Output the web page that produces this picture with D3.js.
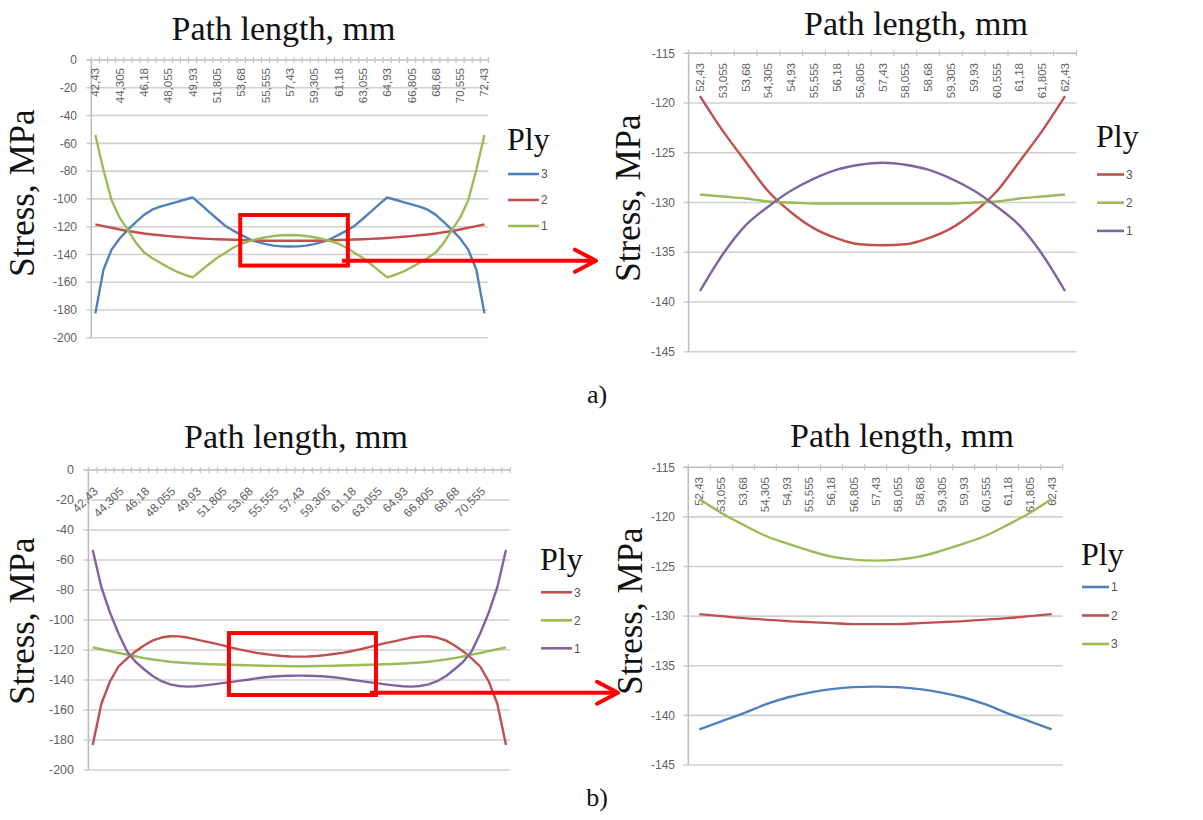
<!DOCTYPE html>
<html>
<head>
<meta charset="utf-8">
<script src="https://cdn.jsdelivr.net/npm/d3@7"></script>
<style>
body{margin:0;background:#fff;}
</style>
</head>
<body>
<svg id="fig" width="1203" height="820"></svg>
<script>
// path positions, mm (full path and the zoomed middle part)
var catsFull = [42.43, 43.055, 43.68, 44.305, 44.93, 45.555, 46.18, 46.805, 47.43, 48.055, 48.68, 49.305,
    49.93, 50.555, 51.18, 51.805, 52.43, 53.055, 53.68, 54.305, 54.93, 55.555, 56.18, 56.805, 57.43,
    58.055, 58.68, 59.305, 59.93, 60.555, 61.18, 61.805, 62.43, 63.055, 63.68, 64.305, 64.93, 65.555,
    66.18, 66.805, 67.43, 68.055, 68.68, 69.305, 69.93, 70.555, 71.18, 71.805, 72.43];
var catsZoom = [52.43, 53.055, 53.68, 54.305, 54.93, 55.555, 56.18, 56.805, 57.43,
    58.055, 58.68, 59.305, 59.93, 60.555, 61.18, 61.805, 62.43];

var yTicksFull = [0, -20, -40, -60, -80, -100, -120, -140, -160, -180, -200];
var yTicksZoom = [-115, -120, -125, -130, -135, -140, -145];

// a) full path, stress MPa
var a_ply3 = [-182.4, -151.0, -136.5, -128.5, -122.3, -116.8, -111.5, -107.8, -105.6, -103.9, -102.3, -100.6,
    -98.9, -104.0, -109.2, -114.3, -119.3, -122.8, -125.9, -128.9, -131.0, -132.6, -133.6, -134.2, -134.3,
    -134.2, -133.6, -132.6, -131.0, -128.9, -125.9, -122.8, -119.3, -114.3, -109.2, -104.0, -98.9,
    -100.6, -102.3, -103.9, -105.6, -107.8, -111.5, -116.8, -122.3, -128.5, -136.5, -151.0, -182.4];
var a_ply2 = [-118.3, -119.6, -120.8, -122.0, -123.1, -124.0, -124.9, -125.6, -126.2, -126.8, -127.3, -127.7,
    -128.1, -128.5, -128.8, -129.0, -129.2, -129.4, -129.6, -129.9, -130.0, -130.1, -130.1, -130.1, -130.1,
    -130.1, -130.1, -130.1, -130.0, -129.9, -129.6, -129.4, -129.2, -129.0, -128.8, -128.5, -128.1,
    -127.7, -127.3, -126.8, -126.2, -125.6, -124.9, -124.0, -123.1, -122.0, -120.8, -119.6, -118.3];
var a_ply1 = [-54.0, -79.0, -101.0, -113.5, -122.3, -131.5, -138.5, -142.5, -146.0, -149.3, -152.3, -154.6,
    -156.5, -151.8, -147.0, -142.6, -138.9, -135.2, -132.3, -130.4, -128.8, -127.6, -126.7, -126.2, -126.0,
    -126.2, -126.7, -127.6, -128.8, -130.4, -132.3, -135.2, -138.9, -142.6, -147.0, -151.8, -156.5,
    -154.6, -152.3, -149.3, -146.0, -142.5, -138.5, -131.5, -122.3, -113.5, -101.0, -79.0, -54.0];

// a) zoomed middle part
var az_ply3 = [-119.3, -122.8, -125.9, -128.9, -131.0, -132.6, -133.6, -134.2, -134.3,
    -134.2, -133.6, -132.6, -131.0, -128.9, -125.9, -122.8, -119.3];
var az_ply2 = [-129.2, -129.4, -129.6, -129.9, -130.0, -130.1, -130.1, -130.1, -130.1,
    -130.1, -130.1, -130.1, -130.0, -129.9, -129.6, -129.4, -129.2];
var az_ply1 = [-138.9, -135.2, -132.3, -130.4, -128.8, -127.6, -126.7, -126.2, -126.0,
    -126.2, -126.7, -127.6, -128.8, -130.4, -132.3, -135.2, -138.9];

// b) full path
var b_ply3 = [-183.3, -156.0, -141.0, -131.0, -125.6, -120.8, -116.8, -113.6, -111.7, -110.8, -110.9, -111.7,
    -112.9, -114.2, -115.4, -116.7, -118.2, -119.6, -120.8, -121.9, -122.7, -123.4, -124.0, -124.3, -124.4,
    -124.3, -124.0, -123.4, -122.7, -121.9, -120.8, -119.6, -118.2, -116.7, -115.4, -114.2, -112.9,
    -111.7, -110.9, -110.8, -111.7, -113.6, -116.8, -120.8, -125.6, -131.0, -141.0, -156.0, -183.3];
var b_ply2 = [-118.2, -119.5, -120.8, -122.0, -123.1, -124.3, -125.4, -126.3, -127.1, -127.8, -128.3, -128.7,
    -129.0, -129.3, -129.5, -129.7, -129.8, -130.0, -130.2, -130.35, -130.5, -130.6, -130.7, -130.8, -130.8,
    -130.8, -130.7, -130.6, -130.5, -130.35, -130.2, -130.0, -129.8, -129.7, -129.5, -129.3, -129.0,
    -128.7, -128.3, -127.8, -127.1, -126.3, -125.4, -124.3, -123.1, -122.0, -120.8, -119.5, -118.2];
var b_ply1 = [-53.3, -78.0, -95.0, -109.0, -121.0, -128.0, -133.0, -137.5, -140.8, -142.9, -144.0, -144.4,
    -144.2, -143.6, -142.9, -142.1, -141.4, -140.6, -139.8, -138.9, -138.2, -137.7, -137.35, -137.15, -137.1,
    -137.15, -137.35, -137.7, -138.2, -138.9, -139.8, -140.6, -141.4, -142.1, -142.9, -143.6, -144.2,
    -144.4, -144.0, -142.9, -140.8, -137.5, -133.0, -128.0, -121.0, -109.0, -95.0, -78.0, -53.3];

// b) zoomed middle part
var bz_ply1 = [-141.4, -140.6, -139.8, -138.9, -138.2, -137.7, -137.35, -137.15, -137.1,
    -137.15, -137.35, -137.7, -138.2, -138.9, -139.8, -140.6, -141.4];
var bz_ply2 = [-129.8, -130.0, -130.2, -130.35, -130.5, -130.6, -130.7, -130.8, -130.8,
    -130.8, -130.7, -130.6, -130.5, -130.35, -130.2, -130.0, -129.8];
var bz_ply3 = [-118.2, -119.6, -120.8, -121.9, -122.7, -123.4, -124.0, -124.3, -124.4,
    -124.3, -124.0, -123.4, -122.7, -121.9, -120.8, -119.6, -118.2];

var BLUE = '#4f81bd', RED = '#c0504d', GREEN = '#9bbb59', PURPLE = '#8064a2';
var SANS = '"Liberation Sans", Arial, sans-serif';
var SERIF = '"Liberation Serif", "Times New Roman", "DejaVu Serif", serif';

var svg = d3.select('#fig');
svg.append('rect').attr('width', 1203).attr('height', 820).attr('fill', '#fff');

var fmt = function(c){ return String(c).replace('.', ','); };

function serifText(sel){
    return sel.style('font-family', SERIF).attr('fill', '#111');
}

function panel(cfg){
    var g = svg.append('g');
    var cats = cfg.cats.map(fmt);
    var xb = d3.scaleBand().domain(cats).range(cfg.xr).padding(0);
    var bw = xb.bandwidth();
    var cx = function(i){ return xb(cats[i]) + bw / 2; };
    var xl = d3.scaleLinear().domain([cfg.cats[0], cfg.cats[cfg.cats.length - 1]])
        .range([cx(0), cx(cats.length - 1)]);
    var y = d3.scaleLinear().domain([cfg.yTicks[cfg.yTicks.length - 1], cfg.yTicks[0]]).range(cfg.yr);
    var yTop = y(cfg.yTicks[0]);

    // gridlines
    g.selectAll('.grid').data(cfg.yTicks.slice(1)).enter().append('line')
        .attr('x1', cfg.xr[0] - 5).attr('x2', cfg.xr[1])
        .attr('y1', function(d){ return y(d); }).attr('y2', function(d){ return y(d); })
        .attr('stroke', '#d0d0d0').attr('stroke-width', 1.6);

    // y axis line + tick labels
    g.append('line').attr('x1', cfg.xr[0]).attr('x2', cfg.xr[0])
        .attr('y1', yTop).attr('y2', y(cfg.yTicks[cfg.yTicks.length - 1]))
        .attr('stroke', '#bdbdbd').attr('stroke-width', 1.6);
    g.selectAll('.ylab').data(cfg.yTicks).enter().append('text')
        .attr('x', cfg.yLabRight).attr('y', function(d){ return y(d); })
        .attr('dy', '0.35em').attr('text-anchor', 'end')
        .style('font-family', SANS)
        .attr('font-size', cfg.tickFont).attr('fill', '#5f5f5f')
        .text(function(d){ return d; });

    // category axis along the top
    g.append('line').attr('x1', cfg.xr[0] - 5).attr('x2', cfg.xr[1])
        .attr('y1', yTop).attr('y2', yTop)
        .attr('stroke', '#bdbdbd').attr('stroke-width', 1.6);
    var bounds = cats.map(function(c){ return xb(c); }).concat([cfg.xr[1]]);
    g.selectAll('.mtick').data(bounds).enter().append('line')
        .attr('x1', function(d){ return d; }).attr('x2', function(d){ return d; })
        .attr('y1', yTop - 3).attr('y2', yTop + 3)
        .attr('stroke', '#c4c4c4').attr('stroke-width', 1.2);

    // category labels
    var labIdx = d3.range(cats.length).filter(function(i){
        return i % cfg.labEvery == 0 && i < cfg.labMax;
    });
    g.selectAll('.xlab').data(labIdx).enter().append('text')
        .attr('transform', function(i){
            return 'translate(' + (cx(i) + cfg.labDx) + ',' + cfg.labTop + ') rotate(' + cfg.labRot + ')';
        })
        .attr('dy', '0.35em').attr('text-anchor', 'end')
        .style('font-family', SANS)
        .attr('font-size', cfg.labFont).attr('fill', '#5f5f5f')
        .text(function(i){ return cats[i]; });

    // curves
    var line = d3.line()
        .x(function(d, i){ return cx(i); })
        .y(function(d){ return y(d); })
        .curve(cfg.curve);
    cfg.series.forEach(function(s){
        g.append('path').datum(s.values)
            .attr('d', line)
            .attr('fill', 'none').attr('stroke', s.color)
            .attr('stroke-width', 2.4).attr('stroke-linejoin', 'round');
    });

    // legend
    serifText(g.append('text').attr('x', cfg.legX).attr('y', cfg.legTitleY)
        .attr('font-size', 32).text('Ply'));
    cfg.series.forEach(function(s, k){
        var ly = cfg.legY0 + k * cfg.legStep;
        g.append('line').attr('x1', cfg.legX + 1).attr('x2', cfg.legX + 1 + cfg.legLen)
            .attr('y1', ly).attr('y2', ly)
            .attr('stroke', s.color).attr('stroke-width', 2.6);
        g.append('text').attr('x', cfg.legX + cfg.legLen + 3).attr('y', ly).attr('dy', '0.35em')
            .style('font-family', SANS)
            .attr('font-size', 12).attr('fill', '#555').text(s.name);
    });

    // titles
    serifText(g.append('text').attr('x', cfg.titleX).attr('y', cfg.titleY)
        .attr('text-anchor', 'middle').attr('font-size', 34).text('Path length, mm'));
    serifText(g.append('text')
        .attr('transform', 'translate(' + cfg.yTitleX + ',' + cfg.yTitleY + ') rotate(-90)')
        .attr('text-anchor', 'middle').attr('font-size', 35).text('Stress, MPa'));

    return {x: xl, y: y};
}

function zoomMark(p, box, arrowY, tipX){
    var x0 = p.x(box[0]), x1 = p.x(box[1]), y0 = p.y(box[2]), y1 = p.y(box[3]);
    svg.append('rect').attr('x', x0).attr('y', y0).attr('width', x1 - x0).attr('height', y1 - y0)
        .attr('fill', 'none').attr('stroke', '#ff0000').attr('stroke-width', 4);
    var ay = p.y(arrowY);
    svg.append('line').attr('x1', x1 - 6).attr('x2', tipX - 2).attr('y1', ay).attr('y2', ay)
        .attr('stroke', '#ff0000').attr('stroke-width', 4);
    svg.append('path')
        .attr('d', 'M' + (tipX - 21) + ',' + (ay - 11) + 'L' + tipX + ',' + ay + 'L' + (tipX - 21) + ',' + (ay + 11))
        .attr('fill', 'none').attr('stroke', '#ff0000').attr('stroke-width', 4)
        .attr('stroke-linecap', 'round').attr('stroke-linejoin', 'round');
}

// a) full path
var pA = panel({
    cats: catsFull, yTicks: yTicksFull, xr: [91.3, 488.5], yr: [337.8, 60],
    yLabRight: 77, tickFont: 12,
    labEvery: 3, labMax: 49, labTop: 68, labDx: 0, labRot: -90, labFont: 11.5,
    curve: d3.curveLinear,
    series: [{name: '3', values: a_ply3, color: BLUE},
             {name: '2', values: a_ply2, color: RED},
             {name: '1', values: a_ply1, color: GREEN}],
    legX: 507, legTitleY: 150, legY0: 174, legStep: 26, legLen: 31,
    titleX: 283.5, titleY: 40, yTitleX: 34, yTitleY: 193
});
// a) zoom
panel({
    cats: catsZoom, yTicks: yTicksZoom, xr: [688.6, 1076.4], yr: [351.7, 53.3],
    yLabRight: 675, tickFont: 12,
    labEvery: 1, labMax: 17, labTop: 63, labDx: 0, labRot: -90, labFont: 11.5,
    curve: d3.curveMonotoneX,
    series: [{name: '3', values: az_ply3, color: RED},
             {name: '2', values: az_ply2, color: GREEN},
             {name: '1', values: az_ply1, color: PURPLE}],
    legX: 1096, legTitleY: 147, legY0: 174.5, legStep: 28.2, legLen: 27,
    titleX: 916, titleY: 35, yTitleX: 640, yTitleY: 198
});
// b) full path
var pB = panel({
    cats: catsFull, yTicks: yTicksFull, xr: [88.4, 510.3], yr: [770, 470],
    yLabRight: 74, tickFont: 12.5,
    labEvery: 3, labMax: 48, labTop: 489, labDx: 3, labRot: -45, labFont: 12,
    curve: d3.curveLinear,
    series: [{name: '3', values: b_ply3, color: RED},
             {name: '2', values: b_ply2, color: GREEN},
             {name: '1', values: b_ply1, color: PURPLE}],
    legX: 540, legTitleY: 570, legY0: 592.3, legStep: 28, legLen: 31,
    titleX: 296, titleY: 448, yTitleX: 34, yTitleY: 621
});
// b) zoom
panel({
    cats: catsZoom, yTicks: yTicksZoom, xr: [688.3, 1062.7], yr: [765, 467.3],
    yLabRight: 675, tickFont: 12,
    labEvery: 1, labMax: 17, labTop: 477, labDx: 0, labRot: -90, labFont: 11.5,
    curve: d3.curveMonotoneX,
    series: [{name: '1', values: bz_ply1, color: BLUE},
             {name: '2', values: bz_ply2, color: RED},
             {name: '3', values: bz_ply3, color: GREEN}],
    legX: 1081, legTitleY: 565, legY0: 587, legStep: 28.5, legLen: 27,
    titleX: 902, titleY: 447, yTitleX: 642, yTitleY: 611
});

// zoom windows and arrows
zoomMark(pA, [53.6, 61.9, -111.6, -148.0], -144.5, 596);
zoomMark(pB, [52.32, 62.99, -108.7, -150.0], -148.5, 618);

serifText(svg.append('text').attr('x', 597).attr('y', 403)
    .attr('text-anchor', 'middle').attr('font-size', 26).text('a)'));
serifText(svg.append('text').attr('x', 597).attr('y', 806)
    .attr('text-anchor', 'middle').attr('font-size', 26).text('b)'));
</script>
</body>
</html>
